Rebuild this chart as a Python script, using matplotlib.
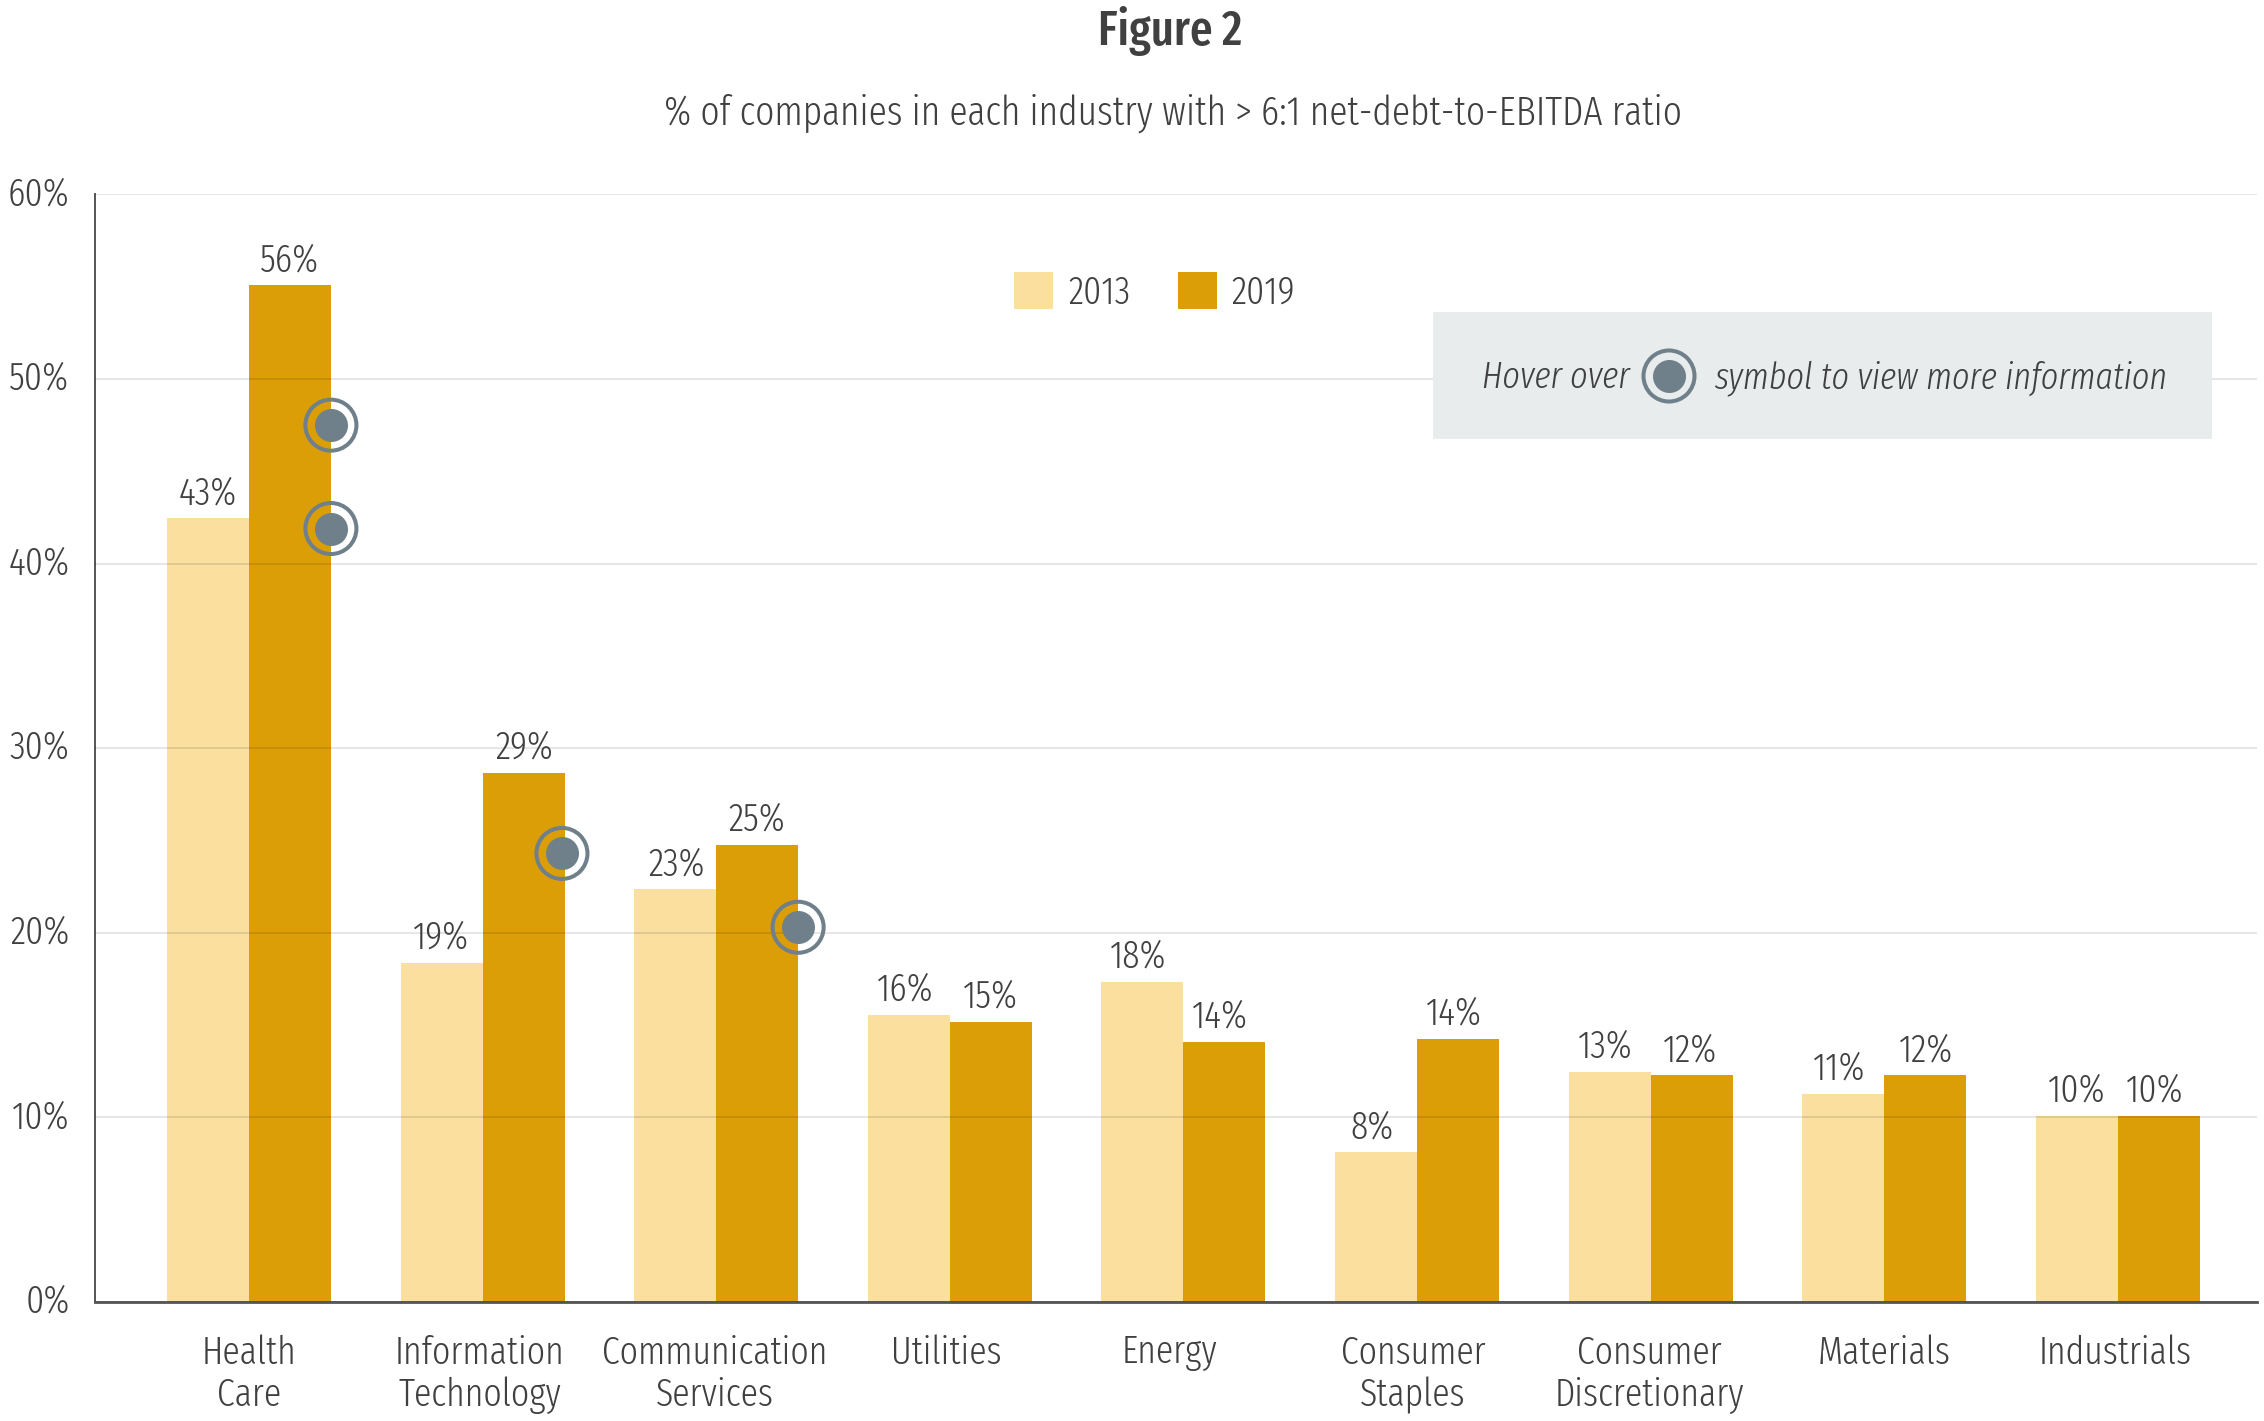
import matplotlib
matplotlib.use("Agg")
import matplotlib.pyplot as plt
from matplotlib.patches import Rectangle
from matplotlib.transforms import ScaledTranslation

industrias = ["Health\nCare", "Information\nTechnology", "Communication\nServices", "Utilities", "Energy",
              "Consumer\nStaples", "Consumer\nDiscretionary", "Materials", "Industrials"]
altura_2013 = [42.45, 18.35, 22.35, 15.55, 17.35, 8.1, 12.45, 11.25, 10.1]
altura_2019 = [55.07, 28.67, 24.77, 15.17, 14.07, 14.27, 12.27, 12.27, 10.1]
rotulo_2013 = ["43%", "19%", "23%", "16%", "18%", "8%", "13%", "11%", "10%"]
rotulo_2019 = ["56%", "29%", "25%", "15%", "14%", "14%", "12%", "12%", "10%"]
y_ticks = [0, 10, 20, 30, 40, 50, 60]
hover_x = [0.351, 0.351, 1.34, 2.351]
hover_valor = [47.5, 41.9, 24.3, 20.3]

# ajustes finos em pixels
desvio_industria = [0, -3, -1, -3, -14, -4, -1, 0, -3]
desvio_2013 = [0, -1, 1, -3, -4, -4, -4, -4, 0]
desvio_2019 = [0, 1, 0, 0, -4, -4, -1, 1, -4]

W, H = 2264, 1421
COR_CLARA = "#FADF9E"
COR_ESCURA = "#DB9E07"
COR_TEXTO = "#404040"
COR_HOVER = "#6F808A"
TAM = 28
plt.rcParams["font.family"] = ["Fira Sans Extra Condensed", "Roboto"]
plt.rcParams["font.weight"] = 300


def fx(px):
    return px / W


def fy(px):
    return 1 - px / H


fig = plt.figure(figsize=(W / 100, H / 100), dpi=100)
ax = fig.add_axes([fx(94.5), fy(1302), fx(2257 - 94.5), (1302 - 194.4) / H])

x = list(range(len(industrias)))
larg = 0.351
b1 = ax.bar([i - larg / 2 for i in x], altura_2013, larg, color=COR_CLARA, label="2013")
b2 = ax.bar([i + larg / 2 for i in x], altura_2019, larg, color=COR_ESCURA, label="2019")

for rects, rotulos, desvios in ((b1, rotulo_2013, desvio_2013), (b2, rotulo_2019, desvio_2019)):
    for r, txt, d in zip(rects, rotulos, desvios):
        ax.annotate(txt, (r.get_x() + r.get_width() / 2, r.get_height()), xytext=(d * 0.72, 10.3),
                    textcoords="offset points", ha="center", va="baseline", fontsize=TAM, color=COR_TEXTO)

ax.set_xlim(-0.661, 8.596)
ax.set_ylim(0, 60)
ax.set_yticks(y_ticks)
ax.set_yticklabels([str(v) + "%" for v in y_ticks], fontsize=TAM, color=COR_TEXTO)
ax.set_xticks(x)
ax.set_xticklabels(industrias, fontsize=TAM, color=COR_TEXTO, linespacing=1.18)
ax.tick_params(axis="y", length=0, pad=18)
ax.tick_params(axis="x", length=0, pad=23)

for t in ax.get_yticklabels():
    t.set_transform(t.get_transform() + ScaledTranslation(0, 4 / 100, fig.dpi_scale_trans))
for t, d in zip(ax.get_xticklabels(), desvio_industria):
    t.set_transform(t.get_transform() + ScaledTranslation(d / 100, 0, fig.dpi_scale_trans))

ax.set_axisbelow(False)
ax.grid(axis="y", color="black", alpha=0.1, linewidth=1.4)
ax.spines["top"].set_visible(False)
ax.spines["right"].set_visible(False)
ax.spines["left"].set_color("#555555")
ax.spines["left"].set_linewidth(1.4)
ax.spines["bottom"].set_color("#555555")
ax.spines["bottom"].set_linewidth(2.0)

# simbolos de hover na borda direita da barra de 2019
ax.scatter(hover_x, hover_valor, s=565, color=COR_HOVER, linewidths=0, zorder=5, clip_on=False)
ax.scatter(hover_x, hover_valor, s=1350, facecolors="none", edgecolors=COR_HOVER, linewidths=2.9, zorder=5,
           clip_on=False)

# caixa do hover
ax.add_patch(Rectangle((fx(1433), fy(439)), fx(2212 - 1433), (439 - 312) / H, transform=fig.transFigure,
                       facecolor="#E9ECED", edgecolor="none", zorder=3))
ax.scatter([fx(1669)], [fy(376)], s=565, color=COR_HOVER, linewidths=0, zorder=5, transform=fig.transFigure)
ax.scatter([fx(1669)], [fy(376)], s=1350, facecolors="none", edgecolors=COR_HOVER, linewidths=2.9, zorder=5,
           transform=fig.transFigure)
fig.text(fx(1482), fy(388), "Hover over", fontsize=26.7, style="italic", color=COR_TEXTO, va="baseline", ha="left")
fig.text(fx(1714), fy(388), "symbol to view more information", fontsize=26.7, style="italic", color=COR_TEXTO,
         va="baseline", ha="left")

fig.text(fx(1170), fy(45), "Figure 2", fontsize=35, fontweight=500, color=COR_TEXTO, ha="center", va="baseline")
fig.text(fx(1173), fy(125), "% of companies in each industry with > 6:1 net-debt-to-EBITDA ratio", fontsize=29.25,
         color=COR_TEXTO, ha="center", va="baseline")

ax.legend(handles=[b1, b2], ncol=2, frameon=False, loc="upper left", bbox_to_anchor=(fx(1014), fy(272)),
          bbox_transform=fig.transFigure, fontsize=TAM, labelcolor=COR_TEXTO, handlelength=1.0, handleheight=1.08,
          handletextpad=0.39, columnspacing=1.22, borderpad=0, borderaxespad=0)

fig.savefig("out.png", dpi=100)
